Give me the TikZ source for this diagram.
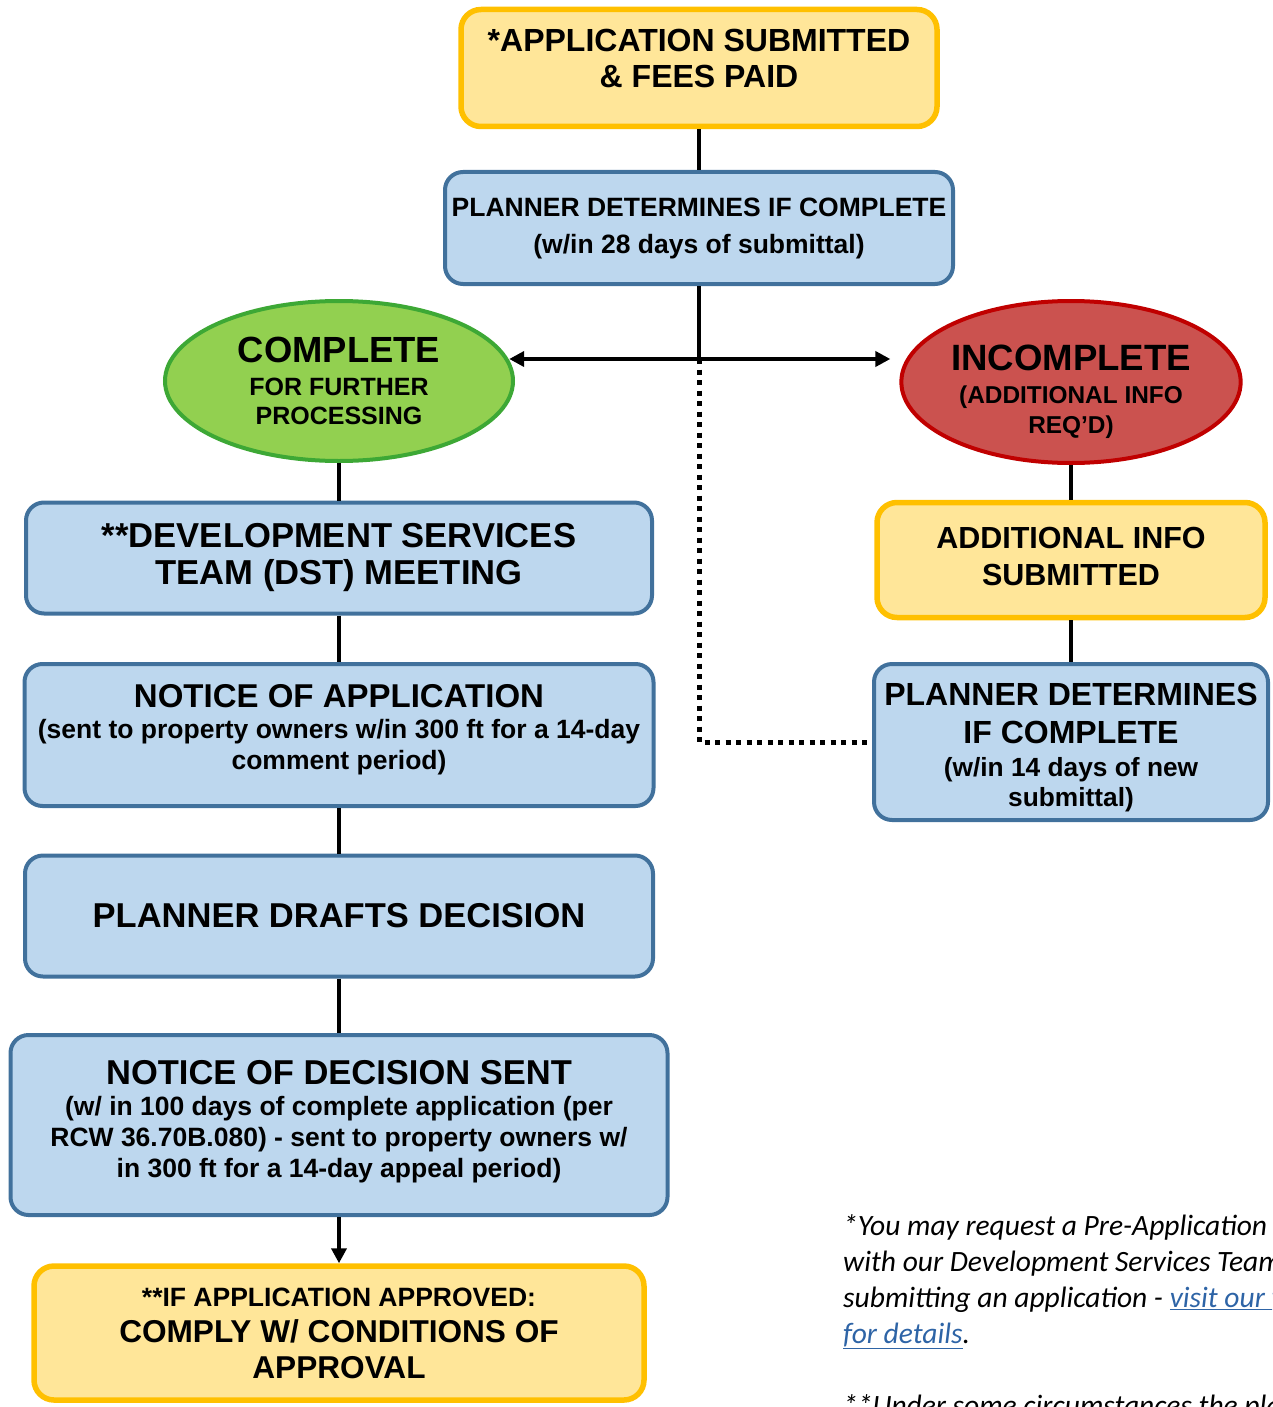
\documentclass[tikz,border=0pt]{standalone}
\usepackage{fontspec}
\setmainfont{Liberation Sans}
\newfontfamily\notefont{Carlito}
\usetikzlibrary{shapes.geometric,arrows.meta}
\definecolor{boxblue}{HTML}{BDD7EE}
\definecolor{lineblue}{HTML}{41719C}
\definecolor{boxyellow}{HTML}{FFE699}
\definecolor{lineyellow}{HTML}{FFC000}
\definecolor{okgreen}{HTML}{92D050}
\definecolor{okgreenline}{HTML}{3DA835}
\definecolor{badred}{HTML}{CB524F}
\definecolor{badredline}{HTML}{C00000}
\definecolor{linkblue}{HTML}{2E64A6}
\newcommand{\fs}[2]{\fontsize{#1}{#2}\selectfont}
\tikzset{
  bluebox/.style={draw=lineblue, fill=boxblue, line width=4pt, rounded corners=18pt, align=center, inner sep=0pt},
  yellowbox/.style={draw=lineyellow, fill=boxyellow, line width=5.5pt, rounded corners=20pt, align=center, inner sep=0pt},
  oval/.style={ellipse, line width=4pt, align=center, inner sep=0pt},
  link/.style={line width=4.5pt},
  tip/.style={-{Triangle[length=15pt,width=15pt]}},
  dotline/.style={line width=5pt, dash pattern=on 5pt off 5.5pt},
}
\begin{document}
\begin{tikzpicture}[x=1pt,y=-1pt]
\path[use as bounding box, clip] (0,0) rectangle (1272,1407);

% top of the chart
\node[yellowbox, minimum width=476, minimum height=117, font=\bfseries\fs{32}{36}] (apply) at (699,68) {*APPLICATION SUBMITTED\\ \& FEES PAID\\[-16pt]};
\node[bluebox, minimum width=508, minimum height=112, font=\bfseries\fs{26.5}{37}] (check) at (699,228) {PLANNER DETERMINES IF COMPLETE\\ (w/in 28 days of submittal)};
\coordinate (split) at (699,359);

% the two outcomes
\node[oval, draw=okgreenline, fill=okgreen, minimum width=348, minimum height=160, font=\bfseries\fs{25}{29}] (complete) at (339,381) {{\fs{36.4}{39}COMPLETE}\\[4pt] FOR FURTHER\\ PROCESSING};
\node[oval, draw=badredline, fill=badred, minimum width=337, minimum height=162, font=\bfseries\fs{24.4}{30}] (incomplete) at (1071,382) {\\[16pt] {\fs{36.6}{37}INCOMPLETE}\\[3pt] (ADDITIONAL INFO\\ REQ’D)};

% left column
\node[bluebox, minimum width=626, minimum height=111, font=\bfseries\fs{34.6}{37}] (dst) at (339,558) {**DEVELOPMENT SERVICES\\ TEAM (DST) MEETING};
\node[bluebox, minimum width=629, minimum height=142, font=\bfseries\fs{26.5}{31}] (noticeapp) at (339,735) {{\fs{33}{35}NOTICE OF APPLICATION}\\ (sent to property owners w/in 300 ft for a 14-day\\ comment period)\\[-15pt]};
\node[bluebox, minimum width=628, minimum height=121, font=\bfseries\fs{34.5}{38}] (drafts) at (339,916) {PLANNER DRAFTS DECISION};
\node[bluebox, minimum width=657, minimum height=180, font=\bfseries\fs{26.5}{31}] (decision) at (339,1125) {{\fs{34.5}{35}NOTICE OF DECISION SENT}\\ (w/ in 100 days of complete application (per\\ RCW 36.70B.080) - sent to property owners w/\\ in 300 ft for a 14-day appeal period)\\[-18pt]};
\node[yellowbox, minimum width=610, minimum height=134, font=\bfseries\fs{31.6}{36}] (approved) at (339,1333) {{\fs{26.5}{34}**IF APPLICATION APPROVED:}\\ COMPLY W/ CONDITIONS OF\\ APPROVAL};

% right column
\node[yellowbox, minimum width=388, minimum height=115, font=\bfseries\fs{30.5}{37}] (moreinfo) at (1071,560) {ADDITIONAL INFO\\ SUBMITTED\\[-29pt]};
\node[bluebox, minimum width=394, minimum height=156, font=\bfseries\fs{26.3}{30}] (recheck) at (1071,742) {\\[3pt] {\fs{32}{38}PLANNER DETERMINES}\\[8pt] {\fs{32}{38}IF COMPLETE}\\[3pt] (w/in 14 days of new\\ submittal)};

% footnotes
\node[anchor=north west, align=left, inner sep=0pt, font=\notefont\itshape\fs{29.5}{36}] (note) at (843,1214) {*You may request a Pre-Application meeting\\ with our Development Services Team\\ submitting an application - \textcolor{linkblue}{\underline{visit our website}}\\ \textcolor{linkblue}{\underline{for details}}.\\[36pt] **Under some circumstances the planner};

% connectors
\draw[link] (apply) -- (check);
\draw[link] (check) -- (split);
\draw[link,tip] (split) -- (complete.7 |- split);
\draw[link,tip,shorten >=9pt] (split) -- (incomplete.west |- split);
\draw[dotline] (split) |- (recheck); %back to the check
\draw[link] (complete) -- (dst);
\draw[link] (dst) -- (noticeapp);
\draw[link] (noticeapp) -- (drafts);
\draw[link] (drafts) -- (decision);
\draw[link,tip] (decision) -- (approved);
\draw[link] (incomplete) -- (moreinfo);
\draw[link] (moreinfo) -- (recheck);
\end{tikzpicture}
\end{document}
